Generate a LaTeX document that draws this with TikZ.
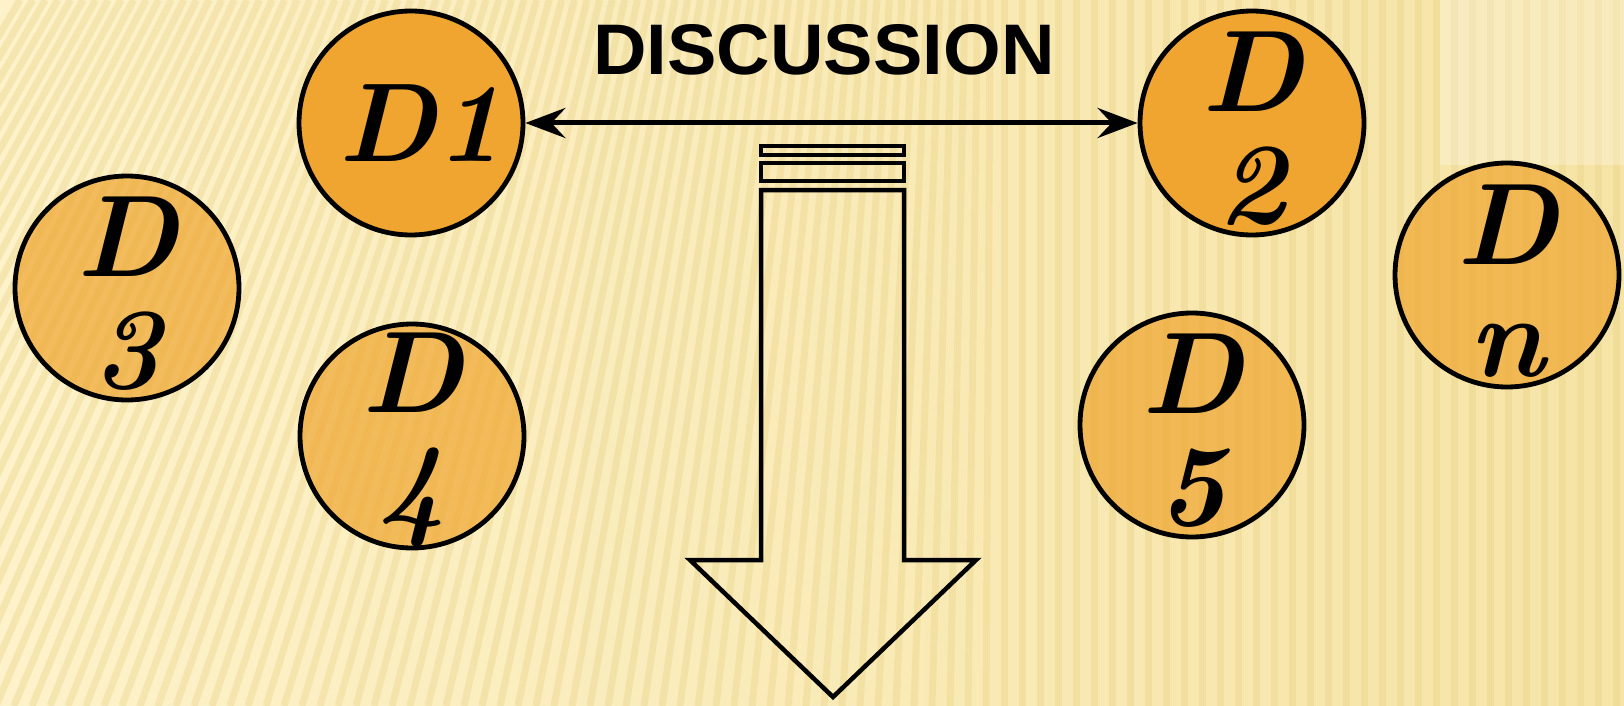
\documentclass[tikz,border=0pt]{standalone}
\usepackage{fontspec}
\usepackage{graphicx}
\usetikzlibrary{arrows.meta}
\newfontfamily\titlefont{Liberation Sans}
\definecolor{bgL}{RGB}{253,242,202}
\definecolor{bgR}{RGB}{246,228,166}
\definecolor{stripe}{RGB}{232,208,130}
\definecolor{orangeA}{RGB}{239,165,47}
\begin{document}
\begin{tikzpicture}[x=1pt,y=-1pt,
  disc/.style={circle, draw=black, line width=4.8pt, minimum size=224pt, inner sep=0pt},
  hot/.style={disc, fill=orangeA},
  soft/.style={disc, fill=orangeA, fill opacity=0.7},
  lab/.style={inner sep=0pt, align=center, font=\fontsize{116}{112}\selectfont\bfseries\itshape},
  outline/.style={draw=black, line width=4.5pt, line join=miter},
  stripeline/.style={draw=stripe, line width=7pt, opacity=0.35},
  link/.style={line width=5pt, {Stealth[length=40pt,width=30pt,inset=14pt]}-{Stealth[length=40pt,width=30pt,inset=14pt]}}]
\useasboundingbox (0,0) rectangle (1624,706);
\begin{scope}
  \clip (0,0) rectangle (1624,706);
  \shade[left color=bgL, right color=bgR] (0,0) rectangle (1624,706);
  \foreach \b in {-400,-382,...,1640} {
    \pgfmathsetmacro\s{max(0,300-0.3*\b)}
    \draw[stripeline] (\b,706) -- ({\b+\s},0);
  }
  \fill[white, opacity=0.25] (1440,0) rectangle (1624,165);
\end{scope}

% title
\node[inner sep=0pt] (title) at (824,50) {\resizebox{461pt}{50pt}{\titlefont\bfseries DISCUSSION}};

% circles
\node[hot]  (D1) at (411,123) {};
\node[hot]  (D2) at (1252,123) {};
\node[soft] (D3) at (127,288) {};
\node[soft] (D4) at (412,436) {};
\node[soft] (D5) at (1192,425) {};
\node[soft] (Dn) at (1507,275) {};

% labels
\node[lab, font=\fontsize{112}{118}\selectfont\bfseries\itshape] (L1) at ([xshift=10pt]D1.center) {D1};
\node[lab] (L2) at ([yshift=-6pt]D2.center) {D\\2};
\node[lab] (L3) at ([yshift=-6pt]D3.center) {D\\3};
\node[lab] (L4) at ([yshift=-4pt]D4.center) {D\\4};
\node[lab] (L5) at ([yshift=-6pt]D5.center) {D\\5};
\node[lab] (Ln) at ([yshift=-6pt]Dn.center) {D\\n};

% discussion link
\draw[link] (D1) -- (D2);

% hollow arrow
\draw[outline] (761,146) rectangle (904,155);
\draw[outline] (761,163) rectangle (904,181);
\draw[outline] (761,190) -- (904,190) -- (904,560) -- (976,560) -- (833,697)
  -- (690,560) -- (761,560) -- cycle;
\end{tikzpicture}
\end{document}
